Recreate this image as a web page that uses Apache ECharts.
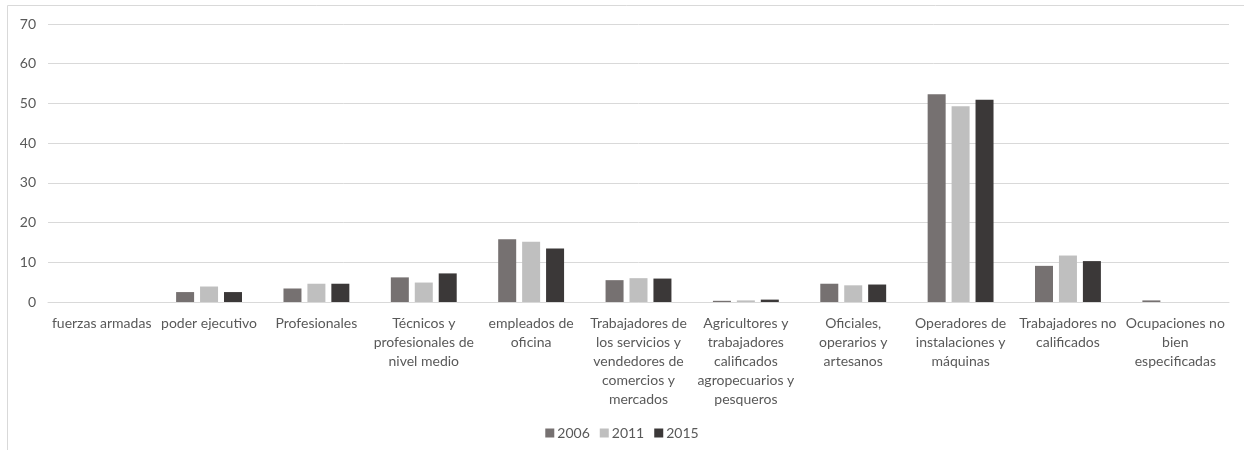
<!DOCTYPE html>
<html>
<head>
<meta charset="utf-8">
<script src="https://cdn.jsdelivr.net/npm/echarts@6/dist/echarts.min.js"></script>
<style>
html,body{margin:0;padding:0;background:#fff;}
#chart{width:1244px;height:450px;}
</style>
</head>
<body>
<div id="chart"></div>
<script>
const categories = [
  'fuerzas armadas',
  'poder ejecutivo',
  'Profesionales',
  'Técnicos y\nprofesionales de\nnivel medio',
  'empleados de\noficina',
  'Trabajadores de\nlos servicios y\nvendedores de\ncomercios y\nmercados',
  'Agricultores y\ntrabajadores\ncalificados\nagropecuarios y\npesqueros',
  'Oficiales,\noperarios y\nartesanos',
  'Operadores de\ninstalaciones y\nmáquinas',
  'Trabajadores no\ncalificados',
  'Ocupaciones no\nbien\nespecificadas'
];
const seriesNames = ['2006', '2011', '2015'];
const values2006 = [0, 2.5, 3.4, 6.2, 15.8, 5.5, 0.3, 4.6, 52.3, 9.1, 0.4];
const values2011 = [0, 3.9, 4.6, 4.9, 15.2, 6.0, 0.4, 4.2, 49.3, 11.7, 0];
const values2015 = [0, 2.5, 4.6, 7.2, 13.5, 5.9, 0.6, 4.4, 50.9, 10.3, 0];
const yTicks = {min: 0, max: 70, interval: 10};

const colors = ['#767171', '#bfbfbf', '#3b3838'];
const allValues = [values2006, values2011, values2015];

const chart = echarts.init(document.getElementById('chart'));
chart.setOption({
  animation: false,
  textStyle: {fontFamily: 'Lato, "Open Sans", sans-serif'},
  graphic: [{
    type: 'rect',
    shape: {x: 7.5, y: 5.5, width: 1260, height: 460},
    style: {fill: 'none', stroke: '#d9d9d9', lineWidth: 1},
    silent: true
  }],
  grid: {left: 48, right: 15, top: 24, bottom: 148},
  legend: {
    data: seriesNames,
    bottom: 5,
    left: 'center',
    icon: 'rect',
    itemWidth: 9,
    itemHeight: 9,
    itemGap: 10,
    textStyle: {color: '#595959', fontSize: 14, fontFamily: 'Lato, sans-serif', padding: [0, 0, 0, -2]}
  },
  xAxis: {
    type: 'category',
    data: categories,
    axisLine: {lineStyle: {color: '#d9d9d9'}},
    axisTick: {show: false},
    axisLabel: {
      interval: 0,
      color: '#595959',
      fontSize: 14,
      lineHeight: 19,
      margin: 12,
      fontFamily: 'Lato, sans-serif'
    }
  },
  yAxis: {
    type: 'value',
    min: yTicks.min,
    max: yTicks.max,
    interval: yTicks.interval,
    axisLine: {show: false},
    axisTick: {show: false},
    splitLine: {lineStyle: {color: '#d9d9d9'}},
    axisLabel: {color: '#595959', fontSize: 14, margin: 12, fontFamily: 'Lato, sans-serif'}
  },
  series: seriesNames.map((n, i) => ({
    name: n,
    type: 'bar',
    data: allValues[i],
    barWidth: 18,
    barGap: '33%',
    itemStyle: {color: colors[i]}
  }))
});
</script>
</body>
</html>
